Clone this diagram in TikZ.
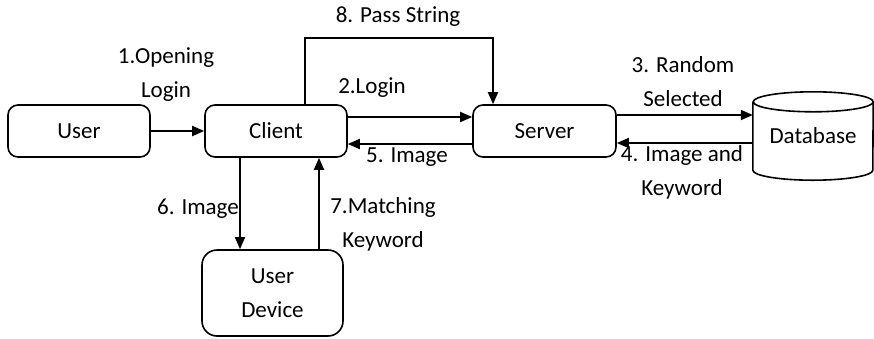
\documentclass[tikz,border=0pt]{standalone}
\usepackage{fontspec}
\setmainfont{Carlito}
\usetikzlibrary{arrows.meta}
\begin{document}
\begin{tikzpicture}[x=1pt,y=-1pt,
  every node/.style={font=\fontsize{23}{34}\selectfont, inner sep=0pt},
  box/.style={draw, line width=1.6pt, rounded corners=10pt, minimum height=52pt},
  arr/.style={line width=1.8pt, -{Triangle[length=12pt,width=10pt]}},
  lbl/.style={align=center}]
\useasboundingbox (0,0) rectangle (874,338);

% process boxes
\node[box, minimum width=142pt] (user) at (79,131) {User};
\node[box, minimum width=142pt] (client) at (276,131) {Client};
\node[box, minimum width=143pt] (server) at (544.5,131) {Server};
\node[box, minimum width=141pt, minimum height=86pt, rounded corners=15pt, align=center] (device) at (272.5,293) {User\\Device};

% database cylinder
\node[minimum width=120pt, minimum height=88pt] (db) at (813,136) {Database};
\draw[line width=1.6pt]
  ([yshift=-10pt]db.north west) -- ([yshift=10pt]db.south west)
  arc[start angle=180, end angle=360, x radius=60pt, y radius=10pt]
  -- ([yshift=-10pt]db.north east)
  arc[start angle=0, end angle=360, x radius=60pt, y radius=10pt];

% connectors
\draw[arr] (user.east) -- (client.west);
\draw[arr] ([yshift=14pt]client.east) -- ([yshift=14pt]server.west);
\draw[arr] ([yshift=-13pt]server.west) -- ([yshift=-13pt]client.east);
\draw[arr] ([yshift=16pt]server.east) -- ([yshift=16pt]server.east -| db.west);
\draw[arr] ([yshift=-12pt]server.east -| db.west) -- ([yshift=-12pt]server.east);
\draw[arr] ([xshift=-36pt]client.south) -- ([xshift=-36pt]client.south |- device.north);
\draw[arr] ([xshift=43pt]client.south |- device.north) -- ([xshift=43pt]client.south);
\coordinate (pstop) at (400,38);
\draw[arr] ([xshift=29pt]client.north) |- (pstop) -| ([xshift=-51.5pt]server.north);

% labels
\node (l8) at (398,17) {8. Pass String};
\node[lbl] (l1) at (166,75) {1.Opening\\Login};
\node (l2) at (372,88) {2.Login};
\node (l5) at (407,157) {5. Image};
\node[lbl] (l3) at (683,82) {3. Random\\Selected};
\node[lbl] (l4) at (682,172) {4. Image and\\Keyword};
\node (l6) at (198,209) {6. Image};
\node[lbl] (l7) at (383,224) {7.Matching\\Keyword};
\end{tikzpicture}
\end{document}
